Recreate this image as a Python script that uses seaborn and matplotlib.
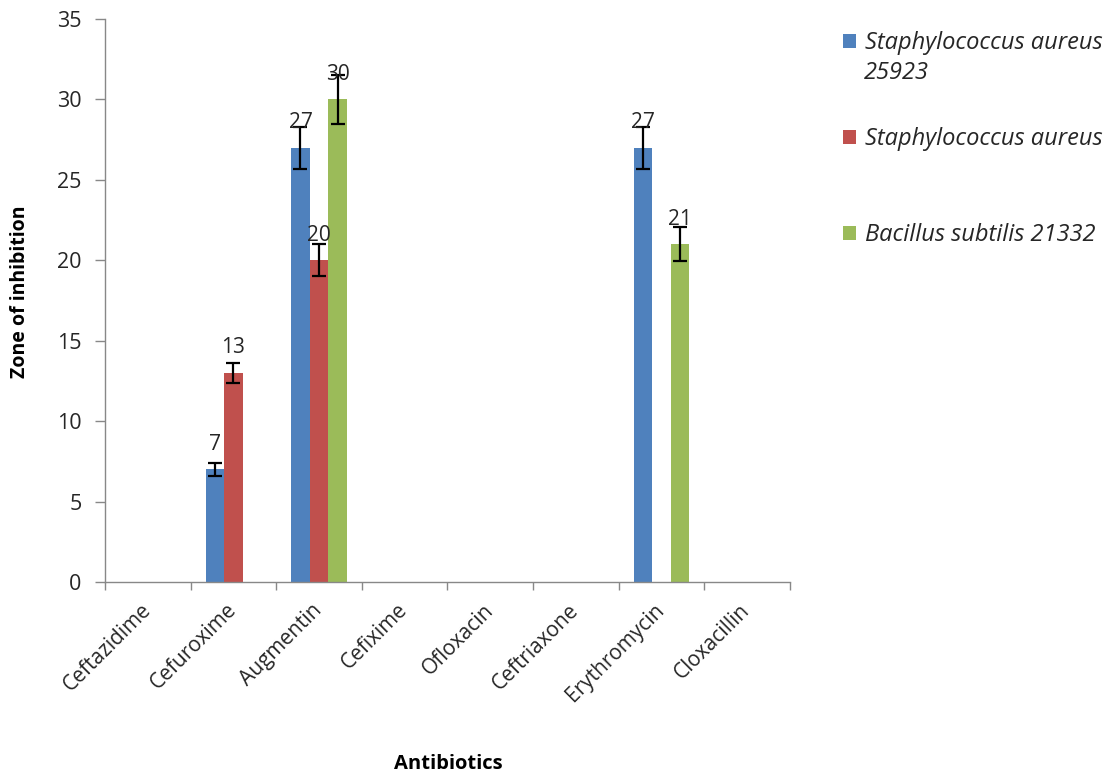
import matplotlib
matplotlib.use("Agg")
import matplotlib.pyplot as plt
import seaborn as sns
import pandas as pd
import numpy as np
from matplotlib.patches import Patch
from matplotlib.ticker import FixedLocator, MultipleLocator

antibiotics = ["Ceftazidime", "Cefuroxime", "Augmentin", "Cefixime",
               "Ofloxacin", "Ceftriaxone", "Erythromycin", "Cloxacillin"]
series_names = ["Staphylococcus aureus 25923", "Staphylococcus aureus", "Bacillus subtilis 21332"]
sa25923 = [0, 7, 27, 0, 0, 0, 27, 0]
sa = [0, 13, 20, 0, 0, 0, 0, 0]
bs21332 = [0, 0, 30, 0, 0, 0, 21, 0]
sa25923_err = [0, 0.4, 1.3, 0, 0, 0, 1.3, 0]
sa_err = [0, 0.6, 1.0, 0, 0, 0, 0, 0]
bs21332_err = [0, 0, 1.5, 0, 0, 0, 1.05, 0]
colors = ["#4F81BD", "#C0504D", "#9BBB59"]

rows = []
for name, vals, errs in zip(series_names, [sa25923, sa, bs21332],
                            [sa25923_err, sa_err, bs21332_err]):
    for ab, v, e in zip(antibiotics, vals, errs):
        rows.append({"Antibiotic": ab, "Zone": v, "Err": e, "Organism": name})
df = pd.DataFrame(rows)

sns.set_style("white")
plt.rcParams["font.family"] = ["Open Sans", "DejaVu Sans"]
TXT = "#262626"

fig = plt.figure(figsize=(11.09, 7.8), dpi=100)
ax = fig.add_axes([0.0947, 0.2538, 0.6175, 0.7218])

sns.barplot(data=df, x="Antibiotic", y="Zone", hue="Organism", order=antibiotics,
            hue_order=series_names, palette=colors, width=0.65, saturation=1,
            errorbar=None, ax=ax, legend=False, linewidth=0)

errs_all = [sa25923_err, sa_err, bs21332_err]
vals_all = [sa25923, sa, bs21332]
for cont, vals, errs in zip(ax.containers, vals_all, errs_all):
    for patch, v, e in zip(cont.patches, vals, errs):
        if v <= 0:
            continue
        xc = patch.get_x() + patch.get_width() / 2
        ax.errorbar(xc, v, yerr=e, fmt="none", ecolor="black", elinewidth=1.6,
                    capsize=4.7, capthick=1.6, zorder=5)
        ax.annotate(f"{v:g}", (xc, v), xytext=(0, 18), textcoords="offset points",
                    ha="center", va="center", fontsize=15, color=TXT, zorder=6)

ax.set_xlim(-0.5, len(antibiotics) - 0.5)
ax.set_ylim(0, 35)
ax.yaxis.set_major_locator(MultipleLocator(5))
ax.set_xticks(range(len(antibiotics)))
ax.set_xticklabels(antibiotics, rotation=45, ha="right", va="center",
                   rotation_mode="anchor", fontsize=15, color=TXT)
ax.xaxis.set_minor_locator(FixedLocator(np.arange(-0.5, len(antibiotics), 1.0)))
ax.tick_params(axis="x", which="major", length=0, pad=18)
ax.tick_params(axis="x", which="minor", length=6, color="#888888", direction="out", width=1)
ax.tick_params(axis="y", which="major", length=7, color="#888888", direction="out",
               labelsize=15.5, labelcolor=TXT, width=1, pad=10)
ax.tick_params(bottom=True, left=True, which="both")
for s in ["top", "right"]:
    ax.spines[s].set_visible(False)
for s in ["left", "bottom"]:
    ax.spines[s].set_color("#888888")
    ax.spines[s].set_linewidth(1)

ax.set_ylabel("")
ax.set_xlabel("")
fig.text(20 / 1109, 1 - 292 / 780, "Zone of inhibition", fontsize=14, fontweight="bold",
         rotation=90, ha="center", va="center", color="black")
fig.text(448 / 1109, 1 - 764 / 780, "Antibiotics", fontsize=14.5, fontweight="bold",
         ha="center", va="center", color="black")

leg_entries = [("Staphylococcus aureus", 43), ("Staphylococcus aureus", 139),
               ("Bacillus subtilis 21332", 235)]
for (lab, ypx), c in zip(leg_entries, colors):
    lg = fig.legend([Patch(facecolor=c, edgecolor="none")], [lab], loc="center left",
                    bbox_to_anchor=(843 / 1109, 1 - ypx / 780), frameon=False,
                    prop={"style": "italic", "size": 17}, handlelength=0.53,
                    handleheight=0.53, handletextpad=0.4, borderpad=0,
                    borderaxespad=0)
    for t in lg.get_texts():
        t.set_color(TXT)
fig.text(864 / 1109, 1 - 73 / 780, "25923", fontsize=17, style="italic",
         ha="left", va="center", color=TXT)

fig.savefig("out.png", dpi=100)
